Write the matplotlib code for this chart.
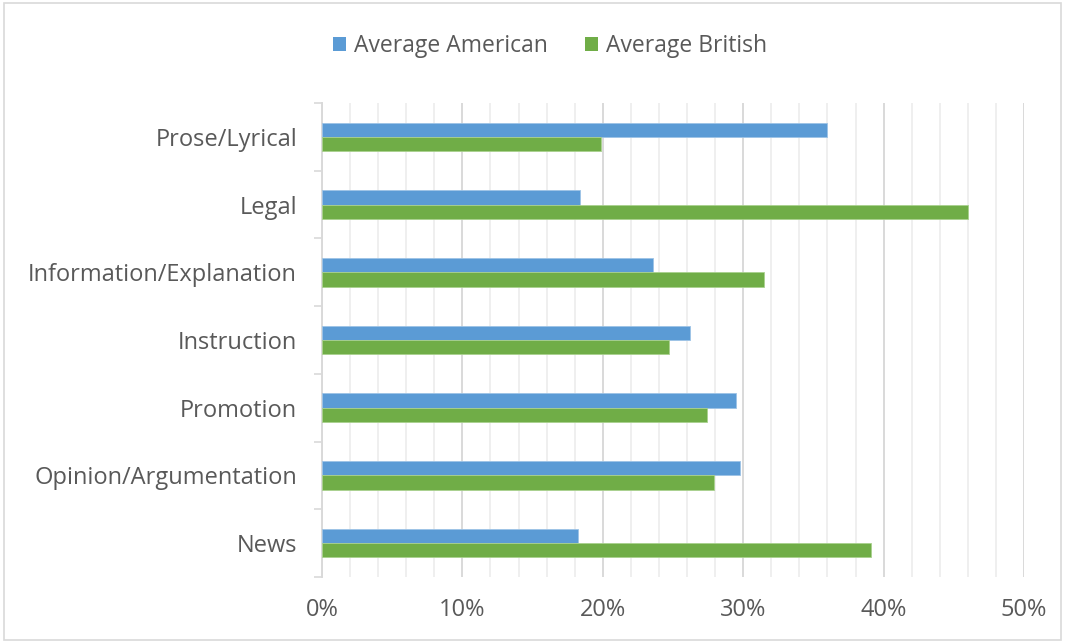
import matplotlib
matplotlib.use("Agg")
import matplotlib.pyplot as plt
from matplotlib.patches import Patch, Rectangle
from matplotlib.ticker import MultipleLocator, FuncFormatter
import numpy as np

categories = ["News", "Opinion/Argumentation", "Promotion", "Instruction",
              "Information/Explanation", "Legal", "Prose/Lyrical"]
american = [18.2, 29.8, 29.5, 26.2, 23.6, 18.4, 36.0]
british = [39.1, 27.9, 27.4, 24.7, 31.5, 46.0, 19.9]
series_names = ["Average American", "Average British"]

BLUE = "#5B9BD5"
GREEN = "#70AD47"
TEXT = "#595959"
FS = 17

plt.rcParams["font.family"] = ["Open Sans", "DejaVu Sans"]

fig = plt.figure(figsize=(10.65, 6.43), dpi=100)
ax = fig.add_axes([322 / 1065, 1 - 577 / 643, 702 / 1065, 474 / 643])

y = np.arange(len(categories))
h = 0.21
ax.barh(y + h / 2, american, height=h, color=BLUE, edgecolor="#9DC3E6",
        linewidth=0.6, zorder=3)
ax.barh(y - h / 2, british, height=h, color=GREEN, edgecolor="#A9D18E",
        linewidth=0.6, zorder=3)

ax.set_xlim(0, 50)
ax.set_ylim(-0.5, len(categories) - 0.5)

ax.xaxis.set_major_locator(MultipleLocator(10))
ax.xaxis.set_minor_locator(MultipleLocator(2))
ax.xaxis.set_major_formatter(FuncFormatter(lambda v, p: f"{v:.0f}%"))
ax.grid(axis="x", which="major", color="#D9D9D9", linewidth=1.4, zorder=0)
ax.grid(axis="x", which="minor", color="#EFEFEF", linewidth=1.4, zorder=0)
ax.tick_params(axis="x", which="both", length=0, pad=15, labelsize=FS,
               labelcolor=TEXT)

ax.set_yticks(y)
ax.set_yticklabels(categories)
ax.set_yticks(np.arange(-0.5, len(categories)), minor=True)
ax.tick_params(axis="y", which="major", length=0, pad=18, labelsize=FS,
               labelcolor=TEXT)
ax.tick_params(axis="y", which="minor", length=6, width=1.2, color="#D9D9D9")

for side in ["top", "right", "bottom"]:
    ax.spines[side].set_visible(False)
ax.spines["left"].set_color("#D9D9D9")
ax.spines["left"].set_linewidth(1.4)

handles = [Patch(facecolor=BLUE, edgecolor="none"),
           Patch(facecolor=GREEN, edgecolor="none")]
fig.legend(handles, series_names, loc="center", ncol=2,
           bbox_to_anchor=(550 / 1065, 1 - 46 / 643), frameon=False,
           fontsize=16.5, labelcolor=TEXT, handlelength=0.58,
           handleheight=0.58, handletextpad=0.35, columnspacing=1.6)

fig.patches.append(Rectangle((0.004, 0.004), 0.992, 0.992,
                             transform=fig.transFigure, fill=False,
                             edgecolor="#D9D9D9", linewidth=1.2))

fig.savefig("out.png", dpi=100)
